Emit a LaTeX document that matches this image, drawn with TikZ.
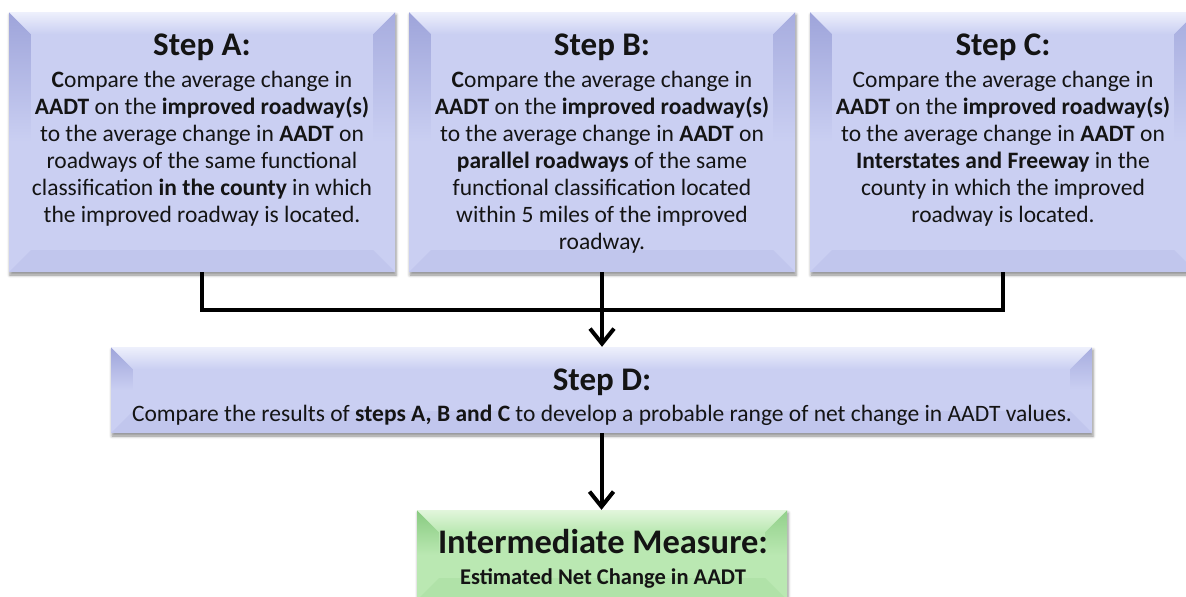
\documentclass[tikz,border=0pt]{standalone}
\usepackage{fontspec}
\setmainfont{Carlito}
\usetikzlibrary{arrows.meta,shadows.blur}
\definecolor{lavface}{RGB}{202,207,242}
\definecolor{lavlight}{RGB}{238,240,252}
\definecolor{lavdark}{RGB}{158,164,218}
\definecolor{grface}{RGB}{186,232,178}
\definecolor{grlight}{RGB}{226,246,220}
\definecolor{grdark}{RGB}{136,202,128}
\definecolor{txt}{RGB}{20,20,20}
\tikzset{
  bevbox/.style n args={3}{rectangle, inner sep=0pt, fill=#1,
    blur shadow={shadow xshift=1pt, shadow yshift=-3pt, shadow blur radius=3pt, shadow opacity=45},
    path picture={
      \def\bw{22pt}
      \shade[top color=#3, bottom color=#1, middle color=#1]
        (path picture bounding box.north west) -- ([xshift=\bw,yshift=-\bw]path picture bounding box.north west)
        -- ([xshift=\bw,yshift=\bw]path picture bounding box.south west)
        -- (path picture bounding box.south west) -- cycle;
      \shade[top color=#3!80!#1, bottom color=#1, middle color=#1]
        (path picture bounding box.north east) -- ([xshift=-\bw,yshift=-\bw]path picture bounding box.north east)
        -- ([xshift=-\bw,yshift=\bw]path picture bounding box.south east)
        -- (path picture bounding box.south east) -- cycle;
      \fill[#3!20!#1]
        (path picture bounding box.south west) -- ([xshift=\bw,yshift=\bw]path picture bounding box.south west)
        -- ([xshift=-\bw,yshift=\bw]path picture bounding box.south east)
        -- (path picture bounding box.south east) -- cycle;
      \shade[top color=#2, bottom color=#1]
        (path picture bounding box.north west) -- (path picture bounding box.north east)
        -- ([xshift=-\bw,yshift=-\bw]path picture bounding box.north east)
        -- ([xshift=\bw,yshift=-\bw]path picture bounding box.north west) -- cycle;
      \fill[#1] ([xshift=\bw,yshift=-\bw]path picture bounding box.north west) rectangle
        ([xshift=-\bw,yshift=\bw]path picture bounding box.south east);
    }},
  lav/.style={bevbox={lavface}{lavlight}{lavdark}},
  grn/.style={bevbox={grface}{grlight}{grdark}},
  titletxt/.style={text=txt, inner sep=0pt, font=\fontsize{33}{38}\selectfont\bfseries},
  bodytxt/.style={text=txt, inner sep=0pt, align=center, font=\fontsize{23.5}{27}\selectfont},
  conn/.style={draw=black, line width=4pt, line join=miter},
  arr/.style={-{Straight Barb[length=15pt,width=24pt]}}
}
\begin{document}
\begin{tikzpicture}[x=1pt,y=-1pt]
\useasboundingbox (0,0) rectangle (1186,597);
% boxes
\node[lav, minimum width=386pt, minimum height=260pt] (A) at (202,142) {};
\node[lav, minimum width=386pt, minimum height=260pt] (B) at (602,142) {};
\node[lav, minimum width=386pt, minimum height=260pt] (C) at (1003,142) {};
\node[lav, minimum width=981pt, minimum height=86pt] (D) at (601.5,390) {};
\node[grn, minimum width=370pt, minimum height=90pt] (M) at (602,555) {};
% texts
\node[titletxt, anchor=base] (Ah) at (202,55) {Step A:};
\node[bodytxt, anchor=north] (Ab) at (202,71) {\textbf{C}ompare the average change in\\
\textbf{AADT} on the \textbf{improved roadway(s)}\\
to the average change in \textbf{AADT} on\\
roadways of the same functional\\
classification \textbf{in the county} in which\\
the improved roadway is located.};
\node[titletxt, anchor=base] (Bh) at (602,55) {Step B:};
\node[bodytxt, anchor=north] (Bb) at (602,71) {\textbf{C}ompare the average change in\\
\textbf{AADT} on the \textbf{improved roadway(s)}\\
to the average change in \textbf{AADT} on\\
\textbf{parallel roadways} of the same\\
functional classification located\\
within 5 miles of the improved\\
roadway.};
\node[titletxt, anchor=base] (Ch) at (1003,55) {Step C:};
\node[bodytxt, anchor=north] (Cb) at (1003,71) {Compare the average change in\\
\textbf{AADT} on the \textbf{improved roadway(s)}\\
to the average change in \textbf{AADT} on\\
\textbf{Interstates and Freeway} in the\\
county in which the improved\\
roadway is located.};
\node[titletxt, anchor=base] (Dh) at (602,390) {Step D:};
\node[bodytxt, anchor=base] (Db) at (602,421) {Compare the results of \textbf{steps A, B and C} to develop a probable range of net change in AADT values.};
\node[titletxt, anchor=base, font=\fontsize{34.5}{40}\selectfont\bfseries] (Mh) at (603,553) {Intermediate Measure:};
\node[titletxt, anchor=base, font=\fontsize{22.5}{26}\selectfont\bfseries] (Mb) at (603,584) {Estimated Net Change in AADT};
% connectors
\coordinate (j) at (602,310);
\draw[conn] (A.south) |- (j) -| (C.south);
\draw[conn, arr] (B.south) -- (B.south |- D.north);
\draw[conn, arr] (D.south) -- (D.south |- M.north);
\end{tikzpicture}
\end{document}
